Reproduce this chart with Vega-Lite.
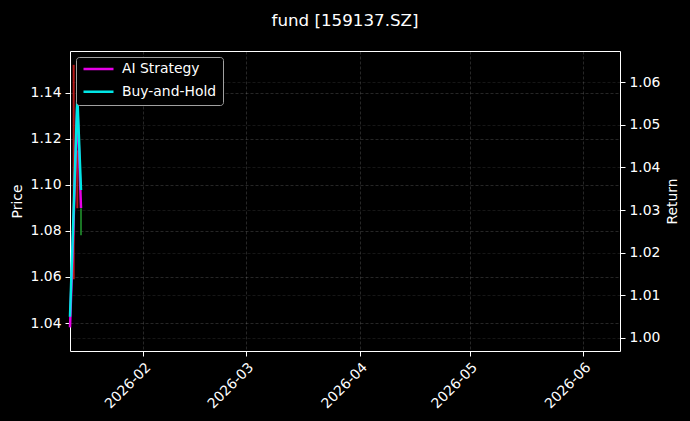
{
  "$schema": "https://vega.github.io/schema/vega-lite/v6.json",
  "width": 550,
  "height": 300,
  "autosize": {"type": "none"},
  "padding": {"left": 70, "top": 51, "right": 70, "bottom": 70},
  "background": "#000000",
  "title": {
    "text": "fund [159137.SZ]",
    "font": "DejaVu Sans",
    "fontSize": 16.7,
    "fontWeight": "normal",
    "color": "#ffffff",
    "anchor": "middle",
    "baseline": "alphabetic",
    "offset": 8
  },
  "config": {
    "view": {"stroke": "#ffffff", "strokeWidth": 1},
    "axis": {
      "labelFont": "DejaVu Sans",
      "titleFont": "DejaVu Sans",
      "labelFontSize": 13.9,
      "titleFontSize": 13.9,
      "titleFontWeight": "normal",
      "labelColor": "#ffffff",
      "titleColor": "#ffffff",
      "tickColor": "#ffffff",
      "tickSize": 5,
      "tickWidth": 1,
      "labelPadding": 4,
      "labelFlush": false,
      "domain": false,
      "gridColor": "#ffffff",
      "gridOpacity": 0.25,
      "gridDash": [3, 2],
      "gridWidth": 0.6
    },
    "legend": {
      "orient": "none",
      "legendX": 6,
      "legendY": 6,
      "fillColor": "#000000",
      "strokeColor": "#a0a0a0",
      "cornerRadius": 3,
      "padding": 6,
      "clipHeight": 12,
      "rowPadding": 8.7,
      "symbolType": "stroke",
      "symbolSize": 900,
      "symbolStrokeWidth": 2.5,
      "labelFont": "DejaVu Sans",
      "labelFontSize": 13.9,
      "labelColor": "#ffffff",
      "labelOffset": 7
    }
  },
  "datasets": {
    "candles": [
      {"date": "2026-01-13", "low": 1.059, "high": 1.152, "dir": "up"},
      {"date": "2026-01-14", "low": 1.0898, "high": 1.1149, "dir": "up"},
      {"date": "2026-01-15", "low": 1.0781, "high": 1.0898, "dir": "down"}
    ],
    "returns": [
      {"date": "2026-01-12", "series": "AI Strategy", "ret": 1.0025},
      {"date": "2026-01-13", "series": "AI Strategy", "ret": 1.028},
      {"date": "2026-01-14", "series": "AI Strategy", "ret": 1.055},
      {"date": "2026-01-15", "series": "AI Strategy", "ret": 1.0305},
      {"date": "2026-01-12", "series": "Buy-and-Hold", "ret": 1.005},
      {"date": "2026-01-13", "series": "Buy-and-Hold", "ret": 1.03},
      {"date": "2026-01-14", "series": "Buy-and-Hold", "ret": 1.0566},
      {"date": "2026-01-15", "series": "Buy-and-Hold", "ret": 1.0347}
    ]
  },
  "layer": [
    {
      "data": {"name": "candles"},
      "mark": {"type": "rule", "strokeWidth": 2, "opacity": 0.85},
      "encoding": {
        "x": {
          "field": "date",
          "type": "temporal",
          "scale": {
            "type": "utc",
            "domain": [
              {"year": 2026, "month": 1, "date": 12, "utc": true},
              {"year": 2026, "month": 6, "date": 11, "utc": true}
            ]
          },
          "axis": {
            "title": null,
            "grid": true,
            "format": "%Y-%m",
            "labelAngle": -45,
            "labelAlign": "right",
            "labelBaseline": "top",
            "values": [
              {"year": 2026, "month": 2, "date": 1, "utc": true},
              {"year": 2026, "month": 3, "date": 1, "utc": true},
              {"year": 2026, "month": 4, "date": 1, "utc": true},
              {"year": 2026, "month": 5, "date": 1, "utc": true},
              {"year": 2026, "month": 6, "date": 1, "utc": true}
            ]
          }
        },
        "y": {
          "field": "high",
          "type": "quantitative",
          "scale": {"domain": [1.0279, 1.158], "nice": false, "zero": false},
          "axis": {
            "orient": "left",
            "title": "Price",
            "grid": true,
            "format": ".2f",
            "values": [1.04, 1.06, 1.08, 1.10, 1.12, 1.14],
            "titleX": -53,
            "titleY": 150,
            "titleAngle": 270,
            "titleAlign": "center",
            "titleBaseline": "middle"
          }
        },
        "y2": {"field": "low"},
        "color": {
          "condition": {"test": "datum.dir === 'up'", "value": "#d81b1b"},
          "value": "#1f8a2a"
        }
      }
    },
    {
      "data": {"name": "returns"},
      "mark": {"type": "line", "strokeWidth": 2.5, "strokeJoin": "round"},
      "encoding": {
        "x": {"field": "date", "type": "temporal"},
        "y": {
          "field": "ret",
          "type": "quantitative",
          "scale": {"domain": [0.99695, 1.0673], "nice": false, "zero": false},
          "axis": {
            "orient": "right",
            "title": "Return",
            "grid": true,
            "gridOpacity": 0.15,
            "format": ".2f",
            "values": [1.00, 1.01, 1.02, 1.03, 1.04, 1.05, 1.06],
            "titleX": 52,
            "titleY": 150,
            "titleAngle": 270,
            "titleAlign": "center",
            "titleBaseline": "middle"
          }
        },
        "color": {
          "field": "series",
          "type": "nominal",
          "scale": {"domain": ["AI Strategy", "Buy-and-Hold"], "range": ["#e600e6", "#00e6e6"]},
          "legend": {"title": null}
        }
      }
    }
  ],
  "resolve": {"scale": {"y": "independent"}, "axis": {"y": "independent"}}
}
